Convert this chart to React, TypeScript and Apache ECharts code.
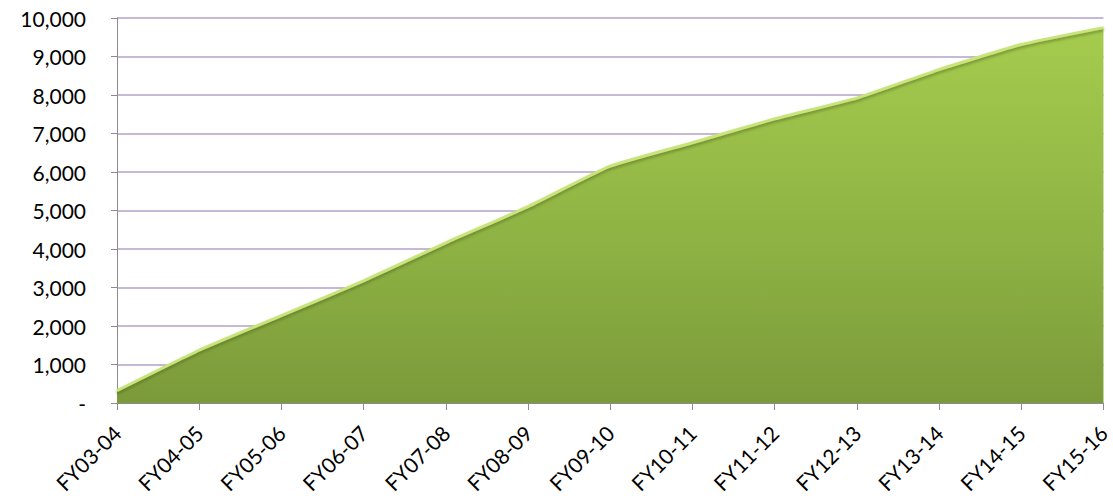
import React, { useEffect, useRef } from "react";
import * as echarts from "echarts";

const categories = [
  "FY03-04", "FY04-05", "FY05-06", "FY06-07", "FY07-08", "FY08-09", "FY09-10",
  "FY10-11", "FY11-12", "FY12-13", "FY13-14", "FY14-15", "FY15-16",
];
const values = [320, 1370, 2270, 3170, 4160, 5100, 6150, 6760, 7380, 7920, 8660, 9310, 9750];
const yMin = 0;
const yMax = 10000;
const yInterval = 1000;

export default function App() {
  const ref = useRef<HTMLDivElement>(null);
  useEffect(() => {
    if (!ref.current) return;
    const chart = echarts.init(ref.current, null, { renderer: "svg" });
    chart.setOption({
      animation: false,
      grid: { left: 117, right: 7, top: 18, bottom: 96, containLabel: false },
      xAxis: {
        type: "category",
        data: categories,
        boundaryGap: false,
        axisLine: { lineStyle: { color: "#8C8C8C", width: 1 } },
        axisTick: { show: true, length: 7, lineStyle: { color: "#8C8C8C" }, alignWithLabel: true },
        axisLabel: {
          rotate: 45,
          margin: 26,
          color: "#000",
          fontFamily: "Lato, 'Open Sans', sans-serif",
          fontSize: 21,
          interval: 0,
        },
        splitLine: { show: false },
      },
      yAxis: {
        type: "value",
        min: yMin,
        max: yMax,
        interval: yInterval,
        axisLine: { show: true, lineStyle: { color: "#8C8C8C", width: 1 } },
        axisTick: { show: true, length: 6, lineStyle: { color: "#8C8C8C" } },
        axisLabel: {
          margin: 31,
          color: "#000",
          fontFamily: "Lato, 'Open Sans', sans-serif",
          fontSize: 21,
          formatter: (v: number) => (v === 0 ? "-" : v.toLocaleString("en-US")),
        },
        splitLine: { show: true, lineStyle: { color: "#B3A2C7", width: 1.5 } },
      },
      series: [
        {
          type: "line",
          data: values,
          smooth: 0.15,
          symbol: "none",
          lineStyle: { color: "#C9E47A", width: 3, shadowColor: "rgba(60,80,20,0.5)", shadowBlur: 3, shadowOffsetY: 2 },
          areaStyle: {
            color: new echarts.graphic.LinearGradient(0, 0, 0, 1, [
              { offset: 0, color: "#A5CC4E" },
              { offset: 0.6, color: "#8DB143" },
              { offset: 1, color: "#7B9A3A" },
            ]),
            opacity: 1,
          },
          z: 2,
        },
      ],
    });
    return () => chart.dispose();
  }, []);
  return <div ref={ref} style={{ width: 1113, height: 499, position: "absolute", left: 0, top: 0 }} />;
}
